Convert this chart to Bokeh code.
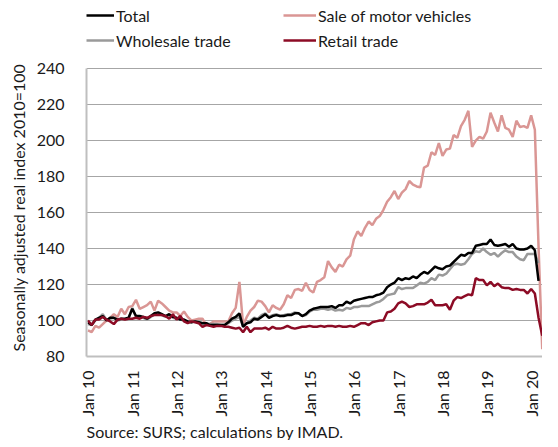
import math
from bokeh.plotting import figure
from bokeh.models import ColumnDataSource, Legend, LegendItem, FixedTicker, Title
from bokeh.embed import file_html
from bokeh.resources import INLINE

# Monthly index, month 0 = Jan 2010
tick_months = [0, 12, 24, 36, 48, 60, 72, 84, 96, 108, 120]
tick_labels = ["Jan 10", "Jan 11", "Jan 12", "Jan 13", "Jan 14", "Jan 15",
               "Jan 16", "Jan 17", "Jan 18", "Jan 19", "Jan 20"]
y_ticks = [80, 100, 120, 140, 160, 180, 200, 220, 240]

# Jan 2010 - Mar 2020
total = [
    99, 97.5, 100.5, 101.5, 102.5, 100, 101.5, 101.5, 100.5, 101, 101, 101.5,
    106.5, 102.5, 102.5, 102, 101, 102.5, 104, 104.5, 103.5, 102.5, 103.5, 102,
    101.5, 100.5, 100.5, 99.5, 99, 99.5, 99, 98.5, 98.5, 97.5, 97.5, 97.5,
    97.5, 97.5, 99, 101, 102, 104, 96.5, 98.5, 99, 101, 100.5, 102,
    103.5, 101.5, 102.5, 103, 102.5, 102.5, 103, 103, 104, 104, 102.5, 103.5,
    105.5, 106.5, 107, 107.5, 107.5, 107.5, 108, 107, 108.5, 108.5, 110.5, 109.5,
    111, 111.5, 112, 112.5, 113, 113, 114, 114.5, 115.5, 118.5, 120, 121,
    123.5, 122.5, 123.5, 123, 124.5, 123.5, 125.5, 127, 126, 128, 130, 129,
    128.5, 130, 130.5, 132.5, 134.5, 136.5, 136, 137.5, 137.5, 141.5, 142, 142.5,
    142.5, 145, 142, 141.5, 142, 142.5, 141, 142.5, 140, 139.5, 139.5, 140,
    141.5, 139, 122,
]
wholesale = [
    98, 97.5, 100, 101.5, 103.5, 100.5, 101, 101.5, 100, 100.5, 100.5, 101,
    107, 102, 102, 101.5, 100.5, 102, 103.5, 104, 103, 102, 103, 101.5,
    101, 100.5, 100, 99, 99, 99.5, 99, 98.5, 98.5, 98, 98, 98,
    97.5, 97.5, 98.5, 100, 101, 102, 97, 98.5, 100, 101.5, 101, 103,
    104, 102, 103, 103.5, 102.5, 103, 103.5, 103.5, 104.5, 104, 102.5, 103,
    105, 106, 106, 106.5, 106.5, 106, 106.5, 105.5, 106, 105.5, 107, 106.5,
    107.5, 107.5, 108, 108, 108, 109, 110, 110.5, 112, 114, 114.5, 115,
    118.5, 117.5, 118, 118, 118, 119.5, 121, 120.5, 121.5, 123.5, 122.5, 125.5,
    125, 126, 128.5, 131, 131.5, 131, 131.5, 134, 137, 138.5, 138, 140,
    138, 136.5, 137.5, 135.5, 137.5, 139, 138, 138, 135.5, 134, 133.5, 137,
    137, 137, 132,
]
# Jan 2010 - Apr 2020
motor_vehicles = [
    94.5, 93.5, 97, 96, 98, 100, 101.5, 103.5, 102, 106.5, 103.5, 107.5,
    108, 111.5, 106.5, 107.5, 108.5, 110.5, 105.5, 111, 109.5, 107.5, 105.5, 104.5,
    104.5, 102.5, 105, 102, 100, 100.5, 101, 101, 97.5, 98, 99.5, 99.5,
    99.5, 99.5, 99.5, 104, 107, 121.5, 97.5, 102, 105.5, 107.5, 111, 110.5,
    108, 104.5, 108.5, 107, 106, 109, 114, 112.5, 117, 117.5, 116.5, 121,
    117, 115.5, 121.5, 122.5, 124, 133, 129.5, 127, 131, 130, 134, 136,
    145, 149.5, 147, 151.5, 155, 153, 156.5, 158, 161.5, 166, 168.5, 172,
    167.5, 171, 173, 177.5, 175.5, 174.5, 174, 185, 186, 193.5, 192, 198.5,
    191.5, 195, 195.5, 203, 201.5, 208, 211.5, 216.5, 196.5, 200, 202, 201,
    205, 215.5, 210, 205, 214, 207, 206, 202, 211, 207.5, 208, 207,
    214, 206, 141, 84,
]
retail = [
    100, 97.5, 100.5, 100.5, 102, 100.5, 99.5, 98, 100.5, 101, 100.5, 101,
    101, 101.5, 101, 102, 101.5, 102.5, 103, 103, 103, 102.5, 101, 103.5,
    100.5, 102.5, 99.5, 98.5, 99.5, 99, 98.5, 96.5, 97.5, 97, 96.5, 97,
    97, 96.5, 96.5, 96, 95.5, 96, 93.5, 96.5, 93.5, 95.5, 95.5, 95.5,
    96, 95, 96.5, 95.5, 95.5, 96, 97, 96, 95.5, 96, 96.5, 96.5,
    97, 96.5, 96.5, 97, 96.5, 97, 97, 96.5, 97, 96.5, 96.5, 97,
    96.5, 97.5, 98.5, 98.5, 97.5, 99, 99.5, 100, 100, 104.5, 105, 106.5,
    109.5, 110.5, 109.5, 107.5, 108, 109, 109, 109, 110, 111.5, 108.5, 108.5,
    108.5, 109, 106, 111, 113, 112.5, 113.5, 114.5, 114, 123.5, 122.5, 122.5,
    119.5, 121.5, 119, 120.5, 118.5, 118, 118, 117, 117.5, 117, 117, 115,
    117.5, 115, 101.5, 91.5,
]

FONT = "Lato"
TXT = "#1a1a1a"

# frame runs from the canvas top; headroom above 240 holds the legend
p = figure(width=542, height=440, output_backend="svg", toolbar_location=None,
           x_range=(-0.4, 123.07), y_range=(80, 277.8),
           min_border_left=79, min_border_top=0, min_border_right=0,
           min_border_bottom=84)
p.title.visible = False
p.outline_line_color = None
p.background_fill_color = "white"
p.border_fill_color = "white"

def src(vals):
    return ColumnDataSource(dict(x=list(range(len(vals))), y=vals))

r_motor = p.line("x", "y", source=src(motor_vehicles), line_color="#da9694", line_width=2.5)
r_whole = p.line("x", "y", source=src(wholesale), line_color="#9a9a9a", line_width=2.5)
r_total = p.line("x", "y", source=src(total), line_color="#000000", line_width=2.5)
r_retail = p.line("x", "y", source=src(retail), line_color="#8c0b25", line_width=2.5)

# axes
p.yaxis.ticker = FixedTicker(ticks=y_ticks)
p.yaxis.bounds = (y_ticks[0], y_ticks[-1])
p.ygrid.ticker = FixedTicker(ticks=y_ticks)
p.ygrid.grid_line_color = "#a6a6a6"
p.ygrid.grid_line_width = 1
p.xgrid.visible = False
p.yaxis.axis_line_color = "#bfbfbf"
p.yaxis.axis_line_width = 2
p.yaxis.major_tick_line_color = None
p.yaxis.minor_tick_line_color = None
p.yaxis.major_label_standoff = 16
p.yaxis.major_label_text_font = FONT
p.yaxis.major_label_text_font_size = "16px"
p.yaxis.major_label_text_color = TXT

y_title = Title(text="Seasonally adjusted real index 2010=100", align="left",
                text_font=FONT, text_font_size="16px", text_font_style="normal",
                text_color=TXT, offset=5, standoff=12)
p.add_layout(y_title, "left")

p.xaxis.ticker = FixedTicker(ticks=tick_months)
p.xaxis.major_label_overrides = {m: lab for m, lab in zip(tick_months, tick_labels)}
p.xaxis.major_label_orientation = math.pi / 2
p.xaxis.axis_line_color = "#bfbfbf"
p.xaxis.axis_line_width = 2
p.xaxis.major_tick_line_color = None
p.xaxis.minor_tick_line_color = None
p.xaxis.major_label_standoff = 8
p.xaxis.major_label_text_font = FONT
p.xaxis.major_label_text_font_size = "16px"
p.xaxis.major_label_text_color = TXT

src_title = Title(text="Source: SURS; calculations by IMAD.", align="left",
                  text_font=FONT, text_font_size="16px", text_font_style="normal",
                  text_color=TXT, standoff=0, offset=0)
p.add_layout(src_title, "below")

def make_legend(items, loc, gw):
    leg = Legend(items=items, location=loc, orientation="vertical")
    leg.glyph_width = gw
    leg.glyph_height = 20
    leg.label_height = 20
    leg.spacing = 5
    leg.padding = 0
    leg.margin = 0
    leg.border_line_color = None
    leg.background_fill_alpha = 0
    leg.label_standoff = 2
    leg.label_text_font = FONT
    leg.label_text_font_size = "16px"
    leg.label_text_color = TXT
    return leg

leg1 = make_legend([LegendItem(label="Total", renderers=[r_total]),
                    LegendItem(label="Wholesale trade", renderers=[r_whole])], (0, 306), 28)
leg2 = make_legend([LegendItem(label="Sale of motor vehicles", renderers=[r_motor]),
                    LegendItem(label="Retail trade", renderers=[r_retail])], (197, 306), 33)
p.add_layout(leg1, "center")
p.add_layout(leg2, "center")

open("out.html", "w").write(file_html(p, INLINE))
